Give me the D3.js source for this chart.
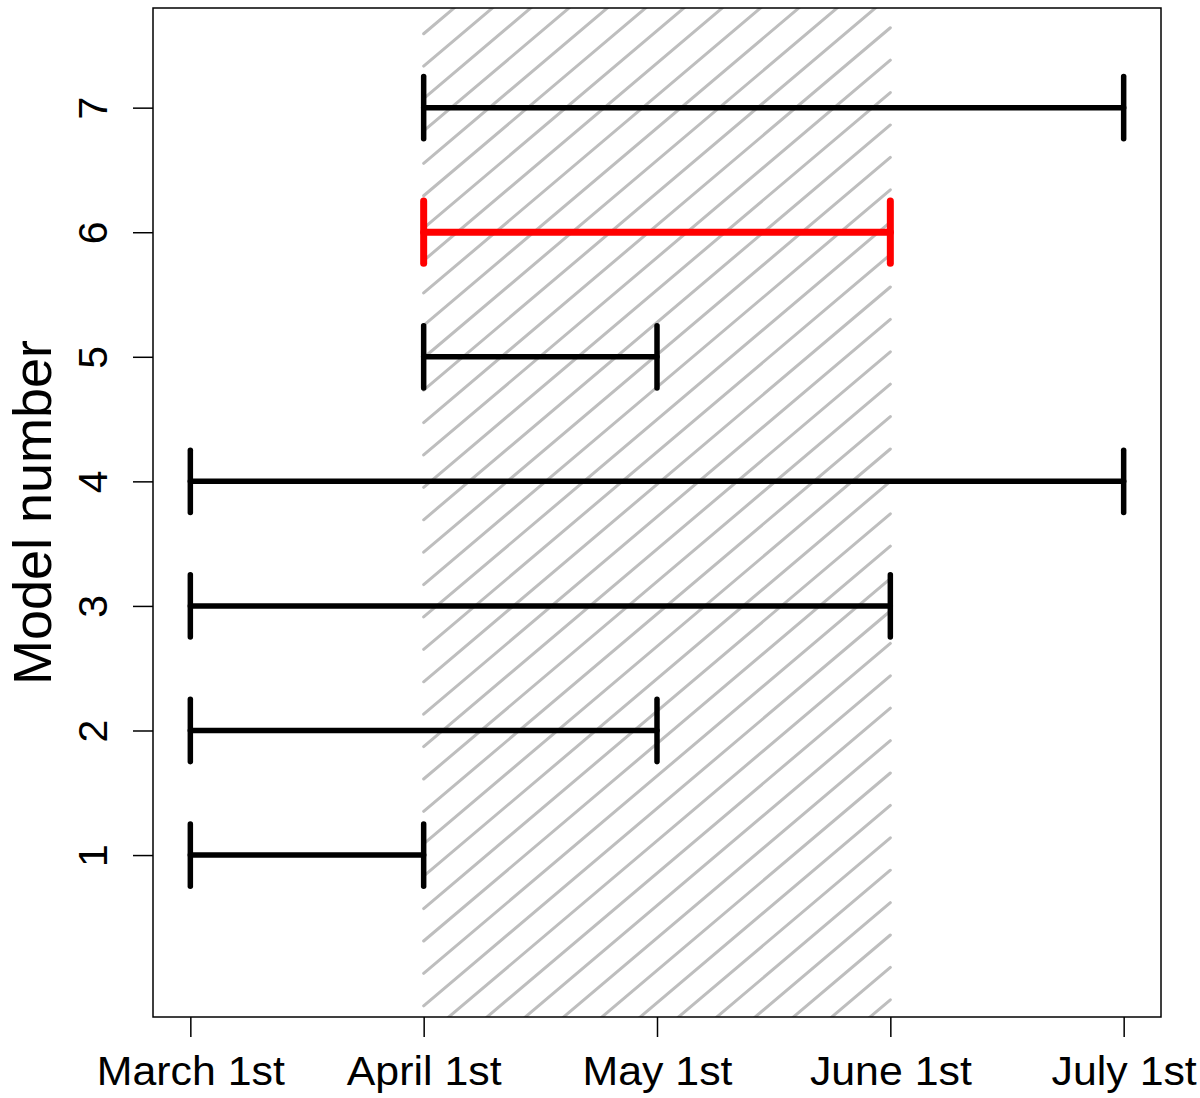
<html>
<head>
    <script src="https://d3js.org/d3.v7.min.js"></script>
    <style>
        body { margin: 0; background: #ffffff; }
        text { font-family: "Liberation Sans", Arial, sans-serif; fill: #000000; }
    </style>
</head>
<body>
<div id="chart1"></div>
<script>
    // data
    var models = [1, 2, 3, 4, 5, 6, 7];
    var startMonth = [0, 0, 0, 0, 1, 1, 1];
    var endMonth = [1, 2, 3, 4, 2, 3, 4];
    var highlight = [false, false, false, false, false, true, false];
    var monthLabels = ["March 1st", "April 1st", "May 1st", "June 1st", "July 1st"];
    var monthTicks = [0, 1, 2, 3, 4];
    var modelTicks = [1, 2, 3, 4, 5, 6, 7];
    var hatchRange = [1, 3];

    var W = 1200, H = 1098;
    var margin = { top: 8, right: 39, bottom: 81, left: 153 },
        width = W - margin.left - margin.right,
        height = H - margin.top - margin.bottom;

    var svg = d3.select("#chart1").append("svg")
        .attr("width", W)
        .attr("height", H);

    // R style: axis range extended by 4%
    var x = d3.scaleLinear().domain([-0.16, 4.16]).range([0, width]),
        y = d3.scaleLinear().domain([-0.3, 7.8]).range([height, 0]);

    var g = svg.append("g")
        .attr("transform", "translate(" + margin.left + "," + margin.top + ")");

    g.append("clipPath").attr("id", "plotclip")
        .append("rect")
        .attr("x", 0).attr("y", 0)
        .attr("width", width).attr("height", height);

    // hatched band
    var xl = x(hatchRange[0]), xr = x(hatchRange[1]);
    var slope = 0.846, step = 38.3, phase = 33.0;
    var hatch = [];
    for (var k = -40; k < 60; k++) {
        var x0 = phase + k * step; // crossing of top edge
        var yl = slope * (x0 - xl), yr = slope * (x0 - xr);
        if (yl < 0 || yr > height) continue;
        hatch.push({ x1: xl, y1: yl, x2: xr, y2: yr });
    }
    g.append("g")
        .attr("clip-path", "url(#plotclip)")
        .selectAll("line")
        .data(hatch)
        .enter().append("line")
        .attr("x1", function(d) { return d.x1; })
        .attr("y1", function(d) { return d.y1; })
        .attr("x2", function(d) { return d.x2; })
        .attr("y2", function(d) { return d.y2; })
        .attr("stroke", "#bebebe")
        .attr("stroke-width", 3)
        .attr("stroke-linecap", "round");

    // intervals
    var bars = g.selectAll(".bar")
        .data(models)
        .enter().append("g")
        .attr("class", "bar")
        .attr("stroke", function(d, i) { return highlight[i] ? "#ff0000" : "#000000"; })
        .attr("stroke-width", function(d, i) { return highlight[i] ? 7 : 5.5; })
        .attr("stroke-linecap", "round");

    bars.append("line")
        .attr("x1", function(d, i) { return x(startMonth[i]); })
        .attr("x2", function(d, i) { return x(endMonth[i]); })
        .attr("y1", function(d) { return y(d); })
        .attr("y2", function(d) { return y(d); });
    bars.append("line")
        .attr("x1", function(d, i) { return x(startMonth[i]); })
        .attr("x2", function(d, i) { return x(startMonth[i]); })
        .attr("y1", function(d) { return y(d - 0.25); })
        .attr("y2", function(d) { return y(d + 0.25); });
    bars.append("line")
        .attr("x1", function(d, i) { return x(endMonth[i]); })
        .attr("x2", function(d, i) { return x(endMonth[i]); })
        .attr("y1", function(d) { return y(d - 0.25); })
        .attr("y2", function(d) { return y(d + 0.25); });

    // box
    g.append("rect")
        .attr("x", 0).attr("y", 0)
        .attr("width", width).attr("height", height)
        .attr("fill", "none")
        .attr("stroke", "#000000")
        .attr("stroke-width", 1.5);

    // axes
    var xAxis = g.append("g")
        .attr("transform", "translate(0," + height + ")")
        .call(d3.axisBottom(x).tickValues(monthTicks)
            .tickFormat(function(d, i) { return monthLabels[i]; })
            .tickSizeInner(20).tickSizeOuter(0).tickPadding(30));
    xAxis.select(".domain").remove();
    xAxis.selectAll("line").attr("stroke-width", 1.5);
    xAxis.selectAll("text")
        .style("font-size", "41px")
        .attr("y", 68)
        .attr("dy", 0)
        .attr("transform", "scale(1.045,1)");

    var yAxis = g.append("g")
        .call(d3.axisLeft(y).tickValues(modelTicks)
            .tickSizeInner(20).tickSizeOuter(0));
    yAxis.select(".domain").remove();
    yAxis.selectAll("line").attr("stroke-width", 1.5);
    yAxis.selectAll("text")
        .style("font-size", "41px")
        .attr("x", null).attr("dy", null)
        .attr("text-anchor", "middle")
        .attr("transform", "translate(-46,0) rotate(-90)");

    svg.append("text")
        .attr("transform", "translate(51," + (margin.top + height / 2) + ") rotate(-90)")
        .attr("text-anchor", "middle")
        .style("font-size", "54px")
        .text("Model number");
</script>
</body>
</html>
